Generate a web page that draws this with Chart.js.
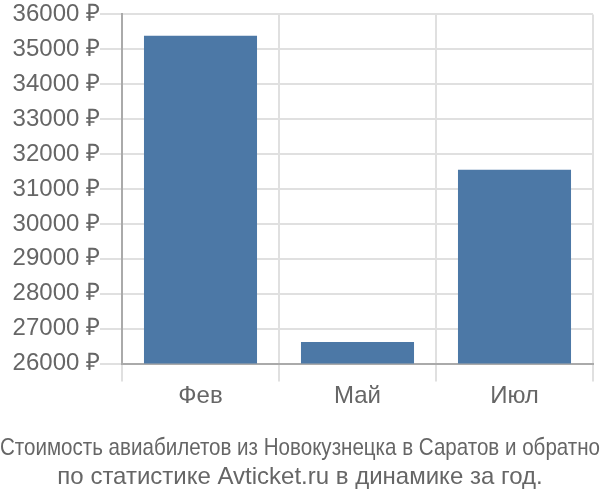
<!DOCTYPE html>
<html>
<head>
<meta charset="utf-8">
<script src="https://cdn.jsdelivr.net/npm/chart.js@4/dist/chart.umd.min.js"></script>
<style>
html,body{margin:0;padding:0;background:#fff;}
#wrap{width:600px;height:500px;}
</style>
</head>
<body>
<div id="wrap"><canvas id="c" width="600" height="500"></canvas></div>
<script>
const categories = ["Фев", "Май", "Июл"];
const prices = [35390, 26615, 31550];
const titleLines = ["Стоимость авиабилетов из Новокузнецка в Саратов и обратно", "по статистике Avticket.ru в динамике за год."];

Chart.defaults.font.family = "'Liberation Sans', Arial, sans-serif";
Chart.defaults.color = "#666";

new Chart(document.getElementById('c'), {
  type: 'bar',
  data: {
    labels: categories,
    datasets: [{
      data: prices,
      backgroundColor: '#4c78a6',
      borderColor: '#4c78a6',
      borderWidth: 0
    }]
  },
  options: {
    responsive: false,
    animation: false,
    layout: { padding: 0 },
    plugins: {
      legend: { display: false },
      tooltip: { enabled: false },
      title: {
        display: true,
        position: 'bottom',
        text: titleLines,
        font: { size: 24, weight: 'normal' },
        color: '#666',
        lineHeight: 1.08,
        padding: { top: 24, bottom: 8 }
      }
    },
    scales: {
      x: {
        grid: { color: '#e0e0e0', lineWidth: 2, tickLength: 18, offset: true },
        border: { color: '#aaa', width: 2 },
        ticks: { font: { size: 24 }, color: '#666', padding: 0 }
      },
      y: {
        min: 26000,
        max: 36000,
        afterFit: (axis) => { axis.width = 122; },
        grid: { color: '#e0e0e0', lineWidth: 2, tickLength: 22 },
        border: { color: '#aaa', width: 2 },
        ticks: {
          stepSize: 1000,
          font: { size: 24 },
          color: '#666',
          padding: 0,
          callback: v => v + ' ₽'
        }
      },
      yRight: {
        position: 'right',
        min: 26000,
        max: 36000,
        afterFit: (axis) => { axis.width = 7; },
        grid: { display: false, drawTicks: false },
        border: { display: false },
        ticks: { display: false }
      }
    }
  }
});
</script>
</body>
</html>
